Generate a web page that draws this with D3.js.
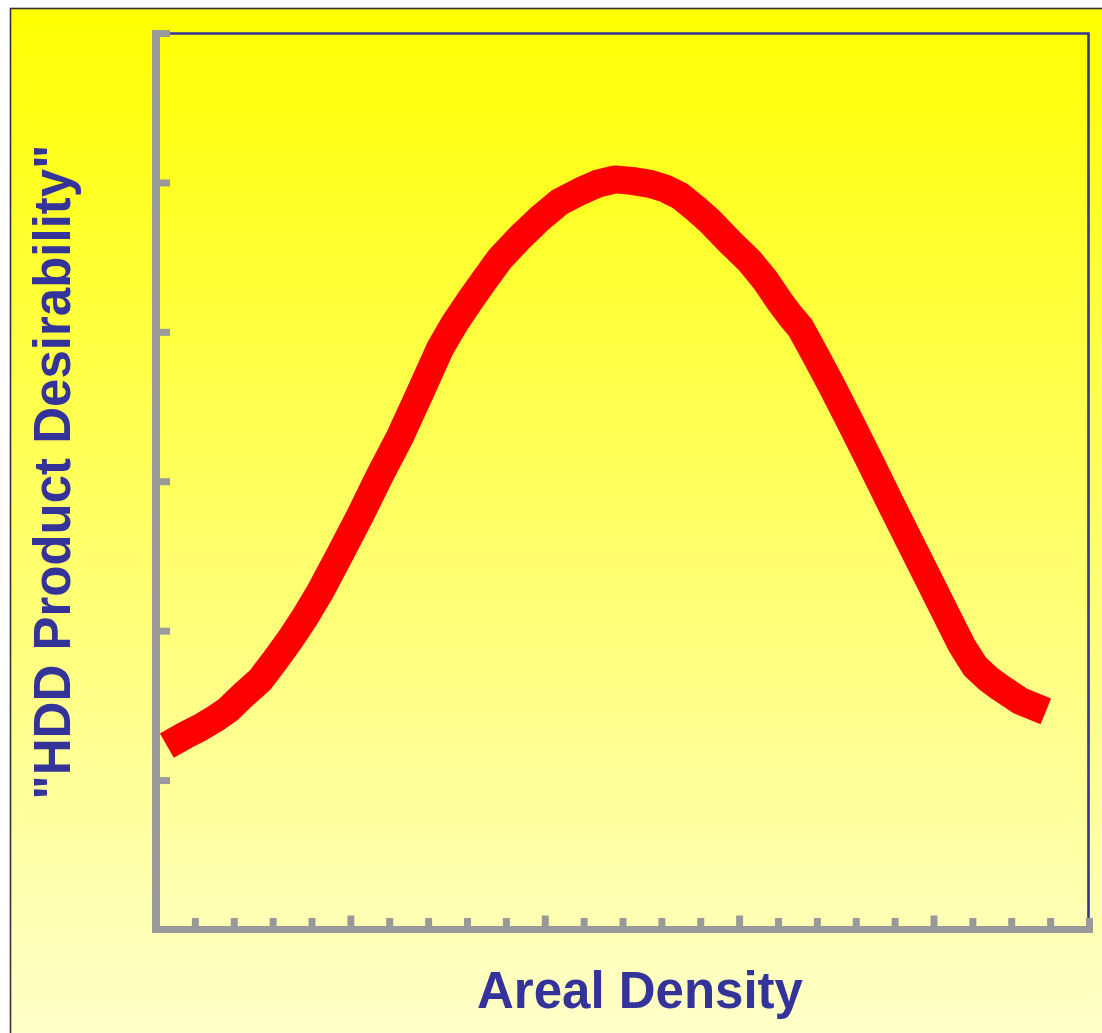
<!DOCTYPE html>
<html>
<head>
<meta charset="utf-8">
<script src="https://cdn.jsdelivr.net/npm/d3@7"></script>
<style>
body { margin: 0; background: #fff; }
svg { display: block; }
</style>
</head>
<body>
<div id="graphic"></div>
<script>
// areal density (arbitrary tick units) vs desirability (arbitrary units)
var densityValues = [0.28, 0.75, 1.13, 1.52, 1.85, 2.29, 2.68, 3.06, 3.45, 3.83, 4.22, 4.73, 5.25, 5.76, 6.28, 6.79, 7.31, 7.69, 8.08, 8.46, 8.85, 9.36, 9.88, 10.39, 10.91, 11.34, 11.81, 12.24, 12.71, 13.09, 13.48, 13.86, 14.25, 14.77, 15.28, 15.66, 16.05, 16.31, 16.57, 16.95, 17.34, 17.85, 18.37, 18.88, 19.40, 19.90, 20.42, 20.73, 21.07, 21.40, 21.71, 22.23, 22.89];
var desirabilityValues = [1.23, 1.30, 1.35, 1.41, 1.47, 1.58, 1.67, 1.80, 1.94, 2.09, 2.26, 2.51, 2.77, 3.04, 3.30, 3.59, 3.89, 4.06, 4.21, 4.35, 4.49, 4.63, 4.76, 4.87, 4.94, 4.99, 5.02, 5.01, 4.99, 4.96, 4.91, 4.83, 4.74, 4.60, 4.47, 4.35, 4.20, 4.11, 4.03, 3.85, 3.66, 3.40, 3.13, 2.86, 2.59, 2.33, 2.06, 1.90, 1.76, 1.68, 1.62, 1.53, 1.46];
var xTickValues = d3.range(0, 25);
var yTickValues = [1, 2, 3, 4, 5, 6];
var xLabel = "Areal Density";
var yLabel = "\"HDD Product Desirability\"";

var width = 1102, height = 1033;
var plot = { left: 156, right: 1089, top: 33, bottom: 929.5 };

var svg = d3.select("#graphic").append("svg")
	.attr("width", width)
	.attr("height", height);

var defs = svg.append("defs");
var grad = defs.append("linearGradient")
	.attr("id", "bg")
	.attr("x1", 0).attr("y1", 0).attr("x2", 0).attr("y2", 1);
grad.append("stop").attr("offset", "0%").attr("stop-color", "#ffff00");
grad.append("stop").attr("offset", "100%").attr("stop-color", "#ffffcc");

// slide background
svg.append("rect")
	.attr("x", 10.5).attr("y", 8.5)
	.attr("width", width).attr("height", height)
	.attr("fill", "url(#bg)")
	.attr("stroke", "#333")
	.attr("stroke-width", 1.6);

var x = d3.scaleLinear().domain([0, 24]).range([plot.left, plot.right]);
var y = d3.scaleLinear().domain([0, 6]).range([plot.bottom, plot.top]);

// blue frame top and right
svg.append("path")
	.attr("d", "M" + (plot.left + 14) + "," + (plot.top + 0.5) +
		"H" + (plot.right - 0.5) + "V" + plot.bottom)
	.attr("fill", "none")
	.attr("stroke", "#333399")
	.attr("stroke-width", 2.6);

// x axis, ticks pointing up
var xAxis = d3.axisBottom(x)
	.tickValues(xTickValues)
	.tickSize(-12)
	.tickSizeOuter(0)
	.tickFormat("");

var gx = svg.append("g")
	.attr("class", "x axis")
	.attr("transform", "translate(0," + plot.bottom + ")")
	.call(xAxis);

gx.select(".domain")
	.attr("stroke", "#999999")
	.attr("stroke-width", 7)
	.attr("d", "M" + (plot.left - 4) + ",0H" + (plot.right + 4));
gx.selectAll(".tick line")
	.attr("stroke", "#999999")
	.attr("stroke-width", 7)
	.attr("y2", function(d) { return d % 5 == 0 ? -14 : -11.5; });

// y axis, ticks pointing right
var yAxis = d3.axisRight(y)
	.tickValues(yTickValues)
	.tickSize(14)
	.tickSizeOuter(0)
	.tickFormat("");

var gy = svg.append("g")
	.attr("class", "y axis")
	.attr("transform", "translate(" + plot.left + ",0)")
	.call(yAxis);

gy.select(".domain")
	.attr("stroke", "#999999")
	.attr("stroke-width", 8)
	.attr("d", "M0," + (plot.top - 3) + "V" + (plot.bottom + 3));
gy.selectAll(".tick line")
	.attr("stroke", "#999999")
	.attr("stroke-width", 7);

// the curve
var data = densityValues.map(function(d, i) {
	return { x: d, y: desirabilityValues[i] };
});

var line = d3.line()
	.x(function(d) { return x(d.x); })
	.y(function(d) { return y(d.y); })
	.curve(d3.curveLinear);

svg.append("path")
	.datum(data)
	.attr("d", line)
	.attr("fill", "none")
	.attr("stroke", "#ff0000")
	.attr("stroke-width", 28)
	.attr("stroke-linecap", "butt")
	.attr("stroke-linejoin", "round");

// labels
svg.append("text")
	.attr("x", 640)
	.attr("y", 1008)
	.attr("text-anchor", "middle")
	.style("font-family", "'Liberation Sans', Arial, sans-serif")
	.style("font-weight", "bold")
	.style("font-size", "51px")
	.attr("fill", "#333399")
	.text(xLabel);

svg.append("text")
	.attr("transform", "translate(70,472) rotate(-90)")
	.attr("text-anchor", "middle")
	.style("font-family", "'Liberation Sans', Arial, sans-serif")
	.style("font-weight", "bold")
	.style("font-size", "51px")
	.attr("fill", "#333399")
	.text(yLabel);
</script>
</body>
</html>
